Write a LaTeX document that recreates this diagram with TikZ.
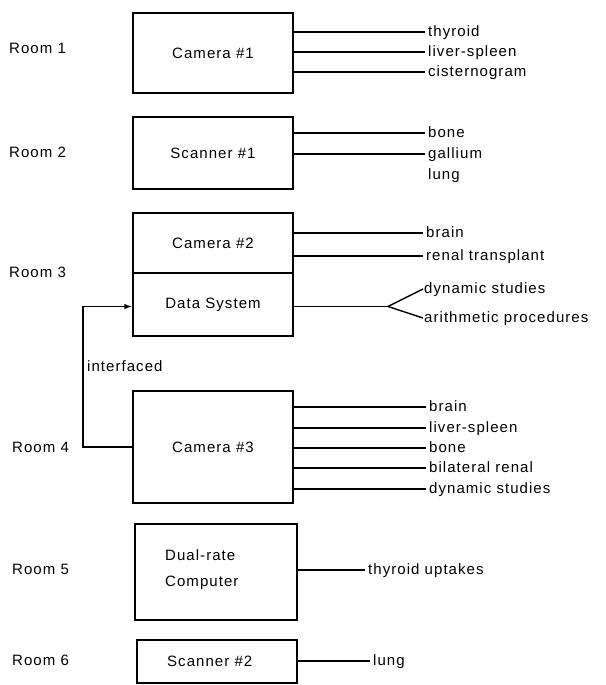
\documentclass[tikz,border=0pt]{standalone}
\usepackage{fontspec}
\setmainfont{Liberation Sans}[LetterSpace=7]
\usetikzlibrary{arrows.meta}
\begin{document}
\begin{tikzpicture}[x=1pt,y=-1pt,
  every node/.style={font=\fontsize{15}{26}\selectfont},
  boxnode/.style={draw, line width=1.4pt, inner sep=0pt, minimum width=160pt},
  lab/.style={anchor=west, inner xsep=3pt, inner ysep=0pt, text height=11pt, text depth=2pt},
  room/.style={anchor=west, inner sep=0pt, text height=11pt, text depth=2pt},
  conn/.style={line width=1.4pt},
  arr/.style={line width=1.4pt, -{Latex[length=8pt,width=5.5pt]}}]
\useasboundingbox (0,0) rectangle (605,685);

% room labels
\node[room] (r1) at (9,49) {Room 1};
\node[room] (r2) at (9,153) {Room 2};
\node[room] (r3) at (9,273) {Room 3};
\node[room] (r4) at (12,448) {Room 4};
\node[room] (r5) at (12,570) {Room 5};
\node[room] (r6) at (12,661) {Room 6};

% boxes
\node[boxnode, minimum height=80pt] (cam1) at (213,53) {Camera \#1};
\node[boxnode, minimum height=72pt] (scan1) at (213,153) {Scanner \#1};
\node[boxnode, minimum height=60pt] (cam2) at (213,243) {Camera \#2};
\node[boxnode, minimum height=63pt] (data) at (213,304.5) {Data System};
\node[boxnode, minimum height=112pt] (cam3) at (213,447) {Camera \#3};
\node[boxnode, minimum width=162pt, minimum height=96pt] (dual) at (216,572) {};
\node[anchor=west, align=left, inner sep=0pt] (dualtxt) at (165,570) {Dual-rate\\Computer};
\node[boxnode, minimum height=43pt] (scan2) at (217,661.5) {};
\node[anchor=west, inner sep=0pt] (scan2txt) at (167,661) {Scanner \#2};

% Room 1 outputs
\node[lab] (c1a) at (425,32) {thyroid};
\node[lab] (c1b) at (425,52) {liver-spleen};
\node[lab] (c1c) at (425,72) {cisternogram};
\foreach \t in {c1a,c1b,c1c} \draw[conn] (cam1.east |- \t.west) -- (\t.west);

% Room 2 outputs
\node[lab] (s1a) at (425,133) {bone};
\node[lab] (s1b) at (425,154) {gallium};
\node[lab] (s1c) at (425,175) {lung};
\foreach \t in {s1a,s1b} \draw[conn] (scan1.east |- \t.west) -- (\t.west);

% Room 3 outputs
\node[lab] (c2a) at (423,233) {brain};
\node[lab] (c2b) at (423,256) {renal transplant};
\foreach \t in {c2a,c2b} \draw[conn] (cam2.east |- \t.west) -- (\t.west);

\coordinate (fork) at (388,306.5);
\node[lab, inner xsep=1pt] (d1) at (423,289) {dynamic studies};
\node[lab, inner xsep=1pt] (d2) at (423,318) {arithmetic procedures};
\draw[conn, line width=1.9pt] (data.east |- fork) -- (fork);
\draw[conn] (fork) -- (d1.west);
\draw[conn] (fork) -- (d2.west);

% Room 4 outputs
\node[lab] (c3a) at (426,407) {brain};
\node[lab] (c3b) at (426,428) {liver-spleen};
\node[lab] (c3c) at (426,448) {bone};
\node[lab] (c3d) at (426,468) {bilateral renal};
\node[lab] (c3e) at (426,489) {dynamic studies};
\foreach \t in {c3a,c3b,c3c,c3d,c3e} \draw[conn] (cam3.east |- \t.west) -- (\t.west);

% interface
\coordinate (bend) at (83,447);
\draw[arr, line width=1.7pt] (cam3.west) -- (bend) |- (data.west |- fork);
\node[anchor=west, inner sep=0pt] (iface) at (87,366) {interfaced};

% Room 5, 6 outputs
\node[lab] (du) at (365,570) {thyroid uptakes};
\draw[conn] (dual.east |- du.west) -- (du.west);
\node[lab] (lu) at (370,661) {lung};
\draw[conn] (scan2.east |- lu.west) -- (lu.west);
\end{tikzpicture}
\end{document}
